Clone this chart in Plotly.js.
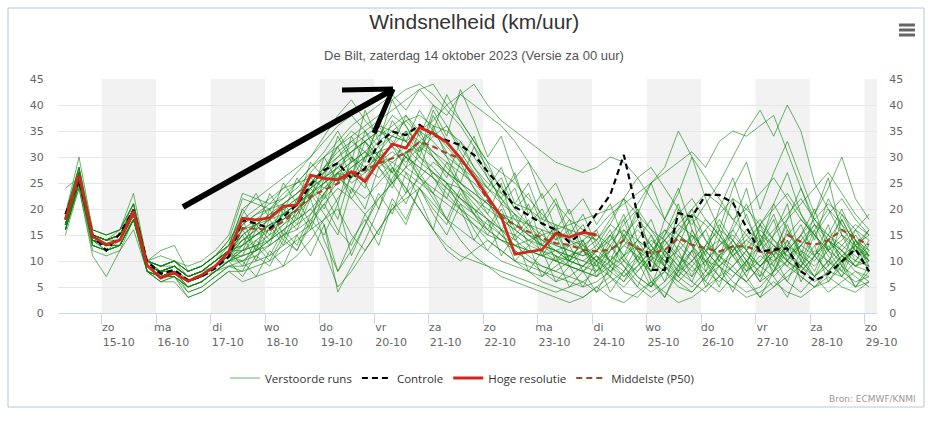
<!DOCTYPE html>
<html>
<head>
<meta charset="utf-8">
<script src="https://cdn.plot.ly/plotly-3.0.1.min.js"></script>
<style>html,body{margin:0;padding:0;background:#fff;}#chart{width:943px;height:422px;}</style>
</head>
<body>
<div id="chart"></div>
<script>
// ---- data ----
const times = [
'2023-10-14 08:00','2023-10-14 14:00','2023-10-14 20:00',
'2023-10-15 02:00','2023-10-15 08:00','2023-10-15 14:00','2023-10-15 20:00',
'2023-10-16 02:00','2023-10-16 08:00','2023-10-16 14:00','2023-10-16 20:00',
'2023-10-17 02:00','2023-10-17 08:00','2023-10-17 14:00','2023-10-17 20:00',
'2023-10-18 02:00','2023-10-18 08:00','2023-10-18 14:00','2023-10-18 20:00',
'2023-10-19 02:00','2023-10-19 08:00','2023-10-19 14:00','2023-10-19 20:00',
'2023-10-20 02:00','2023-10-20 08:00','2023-10-20 14:00','2023-10-20 20:00',
'2023-10-21 02:00','2023-10-21 08:00','2023-10-21 14:00','2023-10-21 20:00',
'2023-10-22 02:00','2023-10-22 08:00','2023-10-22 14:00','2023-10-22 20:00',
'2023-10-23 02:00','2023-10-23 08:00','2023-10-23 14:00','2023-10-23 20:00',
'2023-10-24 02:00','2023-10-24 08:00','2023-10-24 14:00','2023-10-24 20:00',
'2023-10-25 02:00','2023-10-25 08:00','2023-10-25 14:00','2023-10-25 20:00',
'2023-10-26 02:00','2023-10-26 08:00','2023-10-26 14:00','2023-10-26 20:00',
'2023-10-27 02:00','2023-10-27 08:00','2023-10-27 14:00','2023-10-27 20:00',
'2023-10-28 02:00','2023-10-28 08:00','2023-10-28 14:00','2023-10-28 20:00',
'2023-10-29 02:00'];

const hoogResolutie = [18,26.5,14.7,13.2,14,19.6,9.2,6.7,7.7,6.1,7.3,9,11.8,18.2,17.9,18.3,20.5,20.8,26.5,25.9,25.6,27.2,25.3,29.1,32.5,31.7,35.7,34.5,32.8,29.8,26.2,22.4,18.5,11.3,11.8,12.2,15.3,14.6,15.5,15];

const controle = [19,25.5,15,12,15.3,19.8,9.9,7.6,8.3,6.3,7,8.6,10.8,17.9,17.2,16.3,18.5,20.8,24.6,27.5,28.8,25.9,27.8,32.6,34.9,34.2,36.2,34.2,33.2,32.3,30.4,27.2,24,20.4,18.8,17.2,16,13.6,15.5,19.1,22.7,30.4,19,8.3,8.3,19.2,18.5,22.7,22.7,21.2,16.6,11.8,12.2,12.4,8,6.2,7.5,9.9,12.3,8];

const middelste = [18,26,14.5,13,14,19,9,7.5,8,6.3,7.3,9,11,16.3,16.2,16,17.6,19.8,22.4,23.7,24.9,26.9,27.5,28.8,29.8,30.7,32.9,32,30.7,29.7,26.2,21.7,18.5,16.9,15.6,14.4,13.4,13.1,12.1,11.9,12.1,14,12.4,11.5,12.1,14.4,13.1,12.4,11.8,12.8,12.8,11.8,11.5,15,13.7,13.1,14,16,14.4,13.1];

const verstoordeRuns = [
[17,27,15,14,15,20,9,8,9,7,8,10,12,14,16,18,21,23,26,27,29,31,33,35,34,37,38,36,35,33,30,26,22,18,15,13,12,11,10,9,12,14,10,8,11,15,13,10,9,12,16,14,11,9,13,17,15,12,10,14],
[19,28,13,12,13,18,10,9,10,8,9,11,14,22,21,20,23,25,28,31,35,30,27,31,34,33,30,28,25,22,20,18,15,12,10,8,6,7,9,12,15,11,7,5,9,13,10,7,11,14,10,6,8,12,15,11,8,7,10,9],
[16,25,14,13,14,19,8,7,7,5,6,8,10,12,13,14,16,18,20,17,4,9,14,20,26,30,33,35,32,29,27,24,21,19,17,15,13,12,11,13,10,8,11,14,12,9,7,10,13,16,12,9,11,14,10,7,9,12,15,11],
[18,26,16,15,16,23,10,8,9,7,8,10,13,17,19,21,22,24,27,30,33,36,38,40,42,39,43,44,40,37,33,29,27,25,22,19,16,14,12,10,13,17,20,16,12,9,14,18,15,11,13,17,21,16,12,10,14,18,13,10],
[15,24,12,11,12,16,8,6,6,3,4,6,8,8,9,10,12,14,16,18,20,15,12,16,20,22,24,21,18,16,14,12,10,9,8,6,5,4,3,5,7,4,3,6,8,5,4,7,9,6,4,5,8,10,7,5,6,9,7,5],
[18,27,15,14,15,20,9,8,8,6,7,9,11,15,17,19,20,22,25,28,30,32,34,36,35,33,31,34,36,32,28,25,23,21,20,18,17,16,15,14,18,22,26,28,24,20,17,21,25,30,35,39,34,40,35,25,20,15,12,11],
[17,26,14,13,13,18,9,7,8,6,7,9,11,13,15,17,19,21,23,25,27,29,31,28,30,32,29,27,25,24,22,20,18,16,14,13,12,13,14,16,19,21,23,25,27,29,31,28,33,35,34,36,38,31,24,18,15,13,16,19],
[18,26,14,12,13,18,9,7,8,6,7,8,10,11,12,14,17,20,24,28,32,35,33,30,27,24,20,16,13,11,10,9,8,7,6,5,4,5,6,8,11,9,6,4,6,9,12,10,7,5,8,11,9,6,4,7,10,8,6,7],
[19,30,16,15,16,21,10,9,10,8,9,11,13,16,18,20,22,25,28,30,32,34,36,38,41,43,44,42,39,36,32,28,24,20,17,14,12,10,9,11,8,6,9,12,10,7,5,8,11,13,9,7,10,12,9,6,8,11,9,8],
[17,25,13,12,13,19,8,7,8,5,6,8,10,13,15,17,18,20,22,14,8,12,17,22,25,28,26,24,22,20,18,16,14,13,12,11,10,9,8,10,12,15,18,15,11,8,10,13,16,14,11,9,12,15,18,15,12,10,13,15],
[18,28,15,14,15,20,10,12,13,8,9,11,13,20,22,24,26,28,30,33,36,38,35,32,28,24,20,16,12,10,12,14,12,10,8,7,9,11,13,15,13,10,8,11,14,17,15,12,9,7,10,13,16,19,22,18,14,11,9,12],
[16,25,14,13,14,19,9,7,8,6,7,9,11,10,11,13,15,17,19,22,25,28,30,32,34,33,35,37,40,42,40,38,36,33,29,25,21,18,16,14,17,15,12,10,13,16,19,17,14,12,15,18,14,11,13,16,20,17,14,12],
[18,26,15,14,15,20,9,8,9,7,8,10,12,15,17,19,21,23,25,28,31,33,35,37,39,41,43,40,38,42,44,40,37,35,33,31,29,28,27,28,30,29,26,22,18,15,13,16,19,22,20,17,14,12,15,18,21,19,16,14],
[17,26,14,13,14,19,9,7,8,6,7,9,11,12,14,16,18,20,22,24,26,28,30,31,32,30,28,26,24,21,19,17,15,13,12,11,10,9,8,7,9,11,13,10,8,6,9,12,14,11,8,10,13,11,9,7,10,13,11,9],
[16,24,11,7,12,18,8,6,7,4,5,7,9,9,10,11,13,15,17,12,5,8,12,16,20,23,26,29,27,25,22,19,16,13,11,9,8,7,6,4,6,8,5,3,5,8,6,4,7,9,6,3,5,8,10,7,4,6,8,6],
[18,27,15,14,14,19,10,11,10,7,8,10,12,16,17,18,20,22,24,26,29,31,33,30,32,35,33,31,29,27,25,22,19,17,15,14,13,12,11,12,14,16,14,12,15,19,22,18,15,12,14,17,20,23,19,15,12,14,17,15],
[19,28,16,15,16,21,10,9,10,8,9,11,14,18,20,22,24,27,30,34,38,41,37,34,38,36,32,35,31,28,24,21,18,16,14,12,10,11,12,10,8,11,14,12,9,7,10,13,11,8,6,9,12,10,8,11,14,12,9,10],
[24,26,14,13,14,19,10,9,10,9,10,12,15,23,22,21,24,25,26,24,27,29,31,29,27,30,28,26,23,20,17,14,12,10,9,8,7,6,5,6,8,10,7,5,8,11,9,6,4,7,10,8,5,7,9,12,10,7,5,6],
[16,25,13,12,13,18,8,6,7,3,4,6,8,6,7,8,9,11,14,18,22,26,30,33,35,37,34,31,28,25,23,21,19,18,17,16,15,14,13,11,9,7,10,13,16,14,11,8,6,9,12,15,13,10,8,11,14,12,9,11],
[17,26,15,14,15,20,9,8,9,7,8,10,12,13,15,16,19,21,24,26,28,25,27,29,31,29,32,30,27,24,21,18,16,14,12,11,12,10,9,12,10,13,16,13,10,12,15,12,9,11,14,12,10,13,11,9,12,15,13,11],
[18,27,14,13,14,19,9,8,8,6,7,9,11,14,15,17,18,20,23,26,28,30,28,26,29,31,33,30,27,25,23,21,19,17,15,13,12,11,10,12,15,18,21,25,28,35,30,26,22,18,20,23,26,22,18,15,19,22,18,15],
[17,26,14,13,13,18,9,7,8,6,7,9,10,12,13,15,17,19,22,25,28,31,33,35,33,30,26,22,18,14,11,9,7,6,5,4,3,2,3,5,3,2,4,6,4,2,3,5,7,5,3,4,6,4,3,5,7,5,4,6],
[18,26,15,14,15,20,9,8,9,7,8,9,11,14,16,18,19,21,23,25,27,26,28,30,29,27,25,23,21,19,17,15,14,13,14,15,16,17,18,19,20,22,19,16,14,17,20,23,21,18,15,12,15,18,21,24,27,23,19,16],
[17,25,14,13,14,19,9,7,8,5,6,8,10,11,12,14,16,18,20,23,26,24,22,25,28,26,24,27,25,22,19,16,14,12,10,9,8,10,12,9,7,5,8,11,9,6,4,7,10,8,6,9,12,9,7,5,8,11,8,7],
[18,27,15,14,15,20,10,9,9,7,8,10,12,17,19,20,21,23,25,27,30,33,31,34,36,38,35,33,30,28,26,24,22,19,16,13,11,9,8,7,10,13,11,8,12,15,18,14,11,9,12,16,13,10,14,17,14,11,13,16],
[16,25,13,12,13,18,8,7,7,5,6,8,10,10,12,13,15,16,18,21,24,22,19,22,25,28,30,27,24,22,20,18,16,15,13,12,11,10,9,8,10,7,9,12,14,11,8,10,13,15,12,9,7,10,13,11,8,10,12,10],
[18,27,14,13,14,19,9,8,9,7,8,10,12,9,14,11,16,13,19,23,18,27,24,31,27,35,30,38,33,29,34,27,21,24,17,20,14,18,12,16,9,14,20,11,6,13,19,8,14,22,12,7,15,21,10,16,9,18,13,8],
[17,26,15,14,15,20,9,7,8,6,7,9,11,18,12,20,15,22,17,26,21,30,25,20,28,23,32,26,22,29,24,19,25,16,21,13,17,10,14,7,12,18,10,15,9,20,13,6,11,17,24,14,9,16,11,19,26,15,10,13],
[16,25,14,12,13,18,8,7,8,5,6,8,10,7,11,9,14,12,18,15,21,11,17,23,19,27,22,16,25,20,14,18,11,15,8,12,6,9,5,10,4,8,13,6,3,9,15,10,5,12,7,3,8,14,6,11,17,9,5,8],
[19,28,15,14,15,21,10,9,10,8,9,11,13,19,23,18,25,21,29,26,34,29,39,33,41,36,31,39,34,43,37,30,34,26,29,22,25,19,22,17,21,14,19,25,18,23,30,22,16,24,29,20,27,33,26,19,24,30,22,18],
[18,26,14,13,14,19,9,8,9,6,7,9,11,11,16,13,20,17,23,19,15,24,20,28,25,31,26,23,29,24,19,22,16,19,13,16,10,13,8,11,7,15,10,5,12,8,16,11,7,13,9,17,11,6,12,8,14,10,16,12],
[17,26,15,14,15,20,9,8,9,7,8,10,12,15,10,17,13,19,24,20,27,23,30,36,32,38,34,40,36,31,27,23,26,20,23,17,14,16,12,14,10,16,12,8,14,10,6,12,17,13,8,14,19,12,9,15,11,7,13,10],
[16,25,13,12,14,19,8,7,7,5,6,8,9,8,13,10,15,12,17,21,16,13,19,15,22,18,24,20,17,23,19,15,20,14,17,11,15,9,12,8,13,9,5,11,16,12,7,13,18,14,10,6,12,17,11,7,13,9,14,11],
[18,27,15,14,16,21,10,9,10,8,9,11,13,20,16,23,19,26,22,30,25,34,29,37,32,28,35,30,26,33,28,24,28,21,25,18,22,15,19,13,17,22,14,10,18,24,16,11,20,26,18,13,21,27,19,14,22,17,12,16],
[17,25,14,13,13,18,9,7,8,4,5,7,9,10,7,12,9,15,11,17,8,14,18,13,21,17,24,19,15,21,16,12,16,10,13,7,11,5,8,4,9,6,11,7,3,8,12,5,9,4,10,14,7,3,9,13,6,10,5,9],
[18,26,15,14,15,20,9,8,9,7,8,10,12,13,18,15,21,18,25,22,29,26,33,28,24,31,27,36,30,25,32,26,22,27,19,23,16,20,13,10,15,11,17,13,9,15,20,14,10,16,21,15,11,18,24,17,12,19,14,11],
[17,26,14,13,14,19,9,7,8,6,7,9,11,16,12,18,14,20,16,23,27,22,26,30,25,21,27,23,18,24,20,16,21,15,18,12,16,10,14,9,14,19,12,8,15,21,13,9,16,11,7,13,18,10,15,20,12,8,14,10],
[18,27,15,14,15,20,10,8,9,7,8,10,12,12,17,14,19,16,22,27,32,26,35,30,37,33,39,35,42,37,33,29,23,26,20,17,21,14,17,12,16,10,14,18,11,7,12,16,10,14,19,12,8,13,17,11,15,20,14,9]
];

const tickDates = ['2023-10-15','2023-10-16','2023-10-17','2023-10-18','2023-10-19','2023-10-20','2023-10-21','2023-10-22','2023-10-23','2023-10-24','2023-10-25','2023-10-26','2023-10-27','2023-10-28','2023-10-29'];
const tickDays = ['zo','ma','di','wo','do','vr','za','zo','ma','di','wo','do','vr','za','zo'];
const tickDM = ['15-10','16-10','17-10','18-10','19-10','20-10','21-10','22-10','23-10','24-10','25-10','26-10','27-10','28-10','29-10'];
const bandStarts = ['2023-10-15','2023-10-17','2023-10-19','2023-10-21','2023-10-23','2023-10-25','2023-10-27','2023-10-29'];
const bandEnds   = ['2023-10-16','2023-10-18','2023-10-20','2023-10-22','2023-10-24','2023-10-26','2023-10-28','2023-10-30'];
const yTicks = [0,5,10,15,20,25,30,35,40,45];

// ---- layout helpers (pixel -> paper, for decorations only) ----
const L = 58, R = 66, T = 79, B = 109, W = 943, H = 422;
const PW = W - L - R, PH = H - T - B;
const px = X => (X - L) / PW;
const py = Y => (H - B - Y) / PH;

const traces = [];
verstoordeRuns.forEach((run, k) => {
  traces.push({
    x: times, y: run, type: 'scatter', mode: 'lines',
    name: 'Verstoorde runs', legendgroup: 'runs', showlegend: k === 0, legendrank: 1,
    line: {color: 'rgba(10,130,10,0.6)', width: 1}, hoverinfo: 'skip'
  });
});
traces.push({x: times, y: middelste, type: 'scatter', mode: 'lines', name: 'Middelste (P50)', legendrank: 4,
  line: {color: '#a0462d', width: 2.2, dash: '6px,4px'}});
traces.push({x: times, y: controle, type: 'scatter', mode: 'lines', name: 'Controle', legendrank: 2,
  line: {color: '#000000', width: 2.2, dash: '6px,4px'}});
traces.push({x: times.slice(0, hoogResolutie.length), y: hoogResolutie, type: 'scatter', mode: 'lines', name: 'Hoge resolutie', legendrank: 3,
  line: {color: '#d0281c', width: 2.8}});
traces.push({x: [], y: [], yaxis: 'y2', type: 'scatter', showlegend: false});

const shapes = [];
bandStarts.forEach((s, i) => {
  shapes.push({type: 'rect', xref: 'x', yref: 'paper', x0: s, x1: bandEnds[i], y0: 0, y1: 1,
    fillcolor: '#f2f2f2', line: {width: 0}, layer: 'below'});
});
// outer frame
shapes.push({type: 'rect', xref: 'paper', yref: 'paper', x0: px(8), x1: px(924), y0: py(407), y1: py(8),
  line: {color: '#b8c6d4', width: 1}, fillcolor: 'rgba(0,0,0,0)', layer: 'below'});
// menu icon
[25, 30, 35].forEach(yy => shapes.push({type: 'line', xref: 'paper', yref: 'paper',
  x0: px(899), x1: px(915), y0: py(yy), y1: py(yy), line: {color: '#666666', width: 3}}));
// hand-drawn arrow
shapes.push({type: 'line', xref: 'paper', yref: 'paper', x0: px(183), y0: py(207), x1: px(392), y1: py(90),
  line: {color: '#000', width: 6}});
shapes.push({type: 'line', xref: 'paper', yref: 'paper', x0: px(342), y0: py(90), x1: px(393), y1: py(89),
  line: {color: '#000', width: 5}});
shapes.push({type: 'line', xref: 'paper', yref: 'paper', x0: px(393), y0: py(89), x1: px(374), y1: py(133),
  line: {color: '#000', width: 5}});

const nb = '&nbsp;&nbsp;&nbsp;&nbsp;&nbsp;&nbsp;';
const tickText = tickDays.map((d, i) => d + nb + '<br>' + tickDM[i]);

const axisFont = {family: 'DejaVu Sans, Verdana, sans-serif', size: 11, color: '#666666'};

const layout = {
  width: W, height: H,
  margin: {l: L, r: R, t: T, b: B, pad: 0},
  paper_bgcolor: '#ffffff', plot_bgcolor: 'rgba(0,0,0,0)',
  title: {text: 'Windsnelheid (km/uur)', x: 0.503, xref: 'container', xanchor: 'center',
    y: 1 - 22 / H, yref: 'container', yanchor: 'middle',
    font: {family: 'Liberation Sans Narrow, Arial Narrow, Liberation Sans, sans-serif', size: 21, color: '#333333'}},
  showlegend: true,
  legend: {orientation: 'h', x: px(462), xanchor: 'center', y: py(378), yanchor: 'middle',
    font: {family: 'Open Sans, DejaVu Sans, sans-serif', size: 11.5, color: '#333333'}, bgcolor: 'rgba(0,0,0,0)', traceorder: 'normal'},
  xaxis: {type: 'date', range: ['2023-10-14 04:45', '2023-10-29 05:30'],
    tickmode: 'array', tickvals: tickDates, ticktext: tickText,
    ticks: 'outside', ticklen: 10, tickcolor: '#ccd6eb', tickwidth: 1,
    ticklabelshift: 17, ticklabelstandoff: -6,
    showline: true, linecolor: '#ccd6eb', linewidth: 1,
    showgrid: false, zeroline: false, tickfont: axisFont, fixedrange: true},
  yaxis: {range: [0, 45], tickmode: 'array', tickvals: yTicks,
    showgrid: true, gridcolor: '#e6e6e6', gridwidth: 1, zeroline: false, showline: false,
    ticks: 'outside', ticklen: 11, tickcolor: 'rgba(0,0,0,0)', tickfont: axisFont, fixedrange: true},
  yaxis2: {range: [0, 45], overlaying: 'y', side: 'right', tickmode: 'array', tickvals: yTicks,
    showgrid: false, zeroline: false, showline: false,
    ticks: 'outside', ticklen: 9, tickcolor: 'rgba(0,0,0,0)', tickfont: axisFont, fixedrange: true},
  shapes: shapes,
  annotations: [
    {text: 'De Bilt, zaterdag 14 oktober 2023 (Versie za 00 uur)', xref: 'paper', yref: 'paper',
      x: px(474), y: py(56), xanchor: 'center', yanchor: 'middle', showarrow: false,
      font: {family: 'Liberation Sans Narrow, Arial Narrow, Liberation Sans, sans-serif', size: 13, color: '#555555'}},
    {text: 'Bron: ECMWF/KNMI', xref: 'paper', yref: 'paper', x: px(918), y: py(399),
      xanchor: 'right', yanchor: 'middle', showarrow: false,
      font: {family: 'DejaVu Sans, sans-serif', size: 9, color: '#999999'}}
  ],
  hovermode: false
};

Plotly.newPlot('chart', traces, layout, {displayModeBar: false, staticPlot: true});
</script>
</body>
</html>
